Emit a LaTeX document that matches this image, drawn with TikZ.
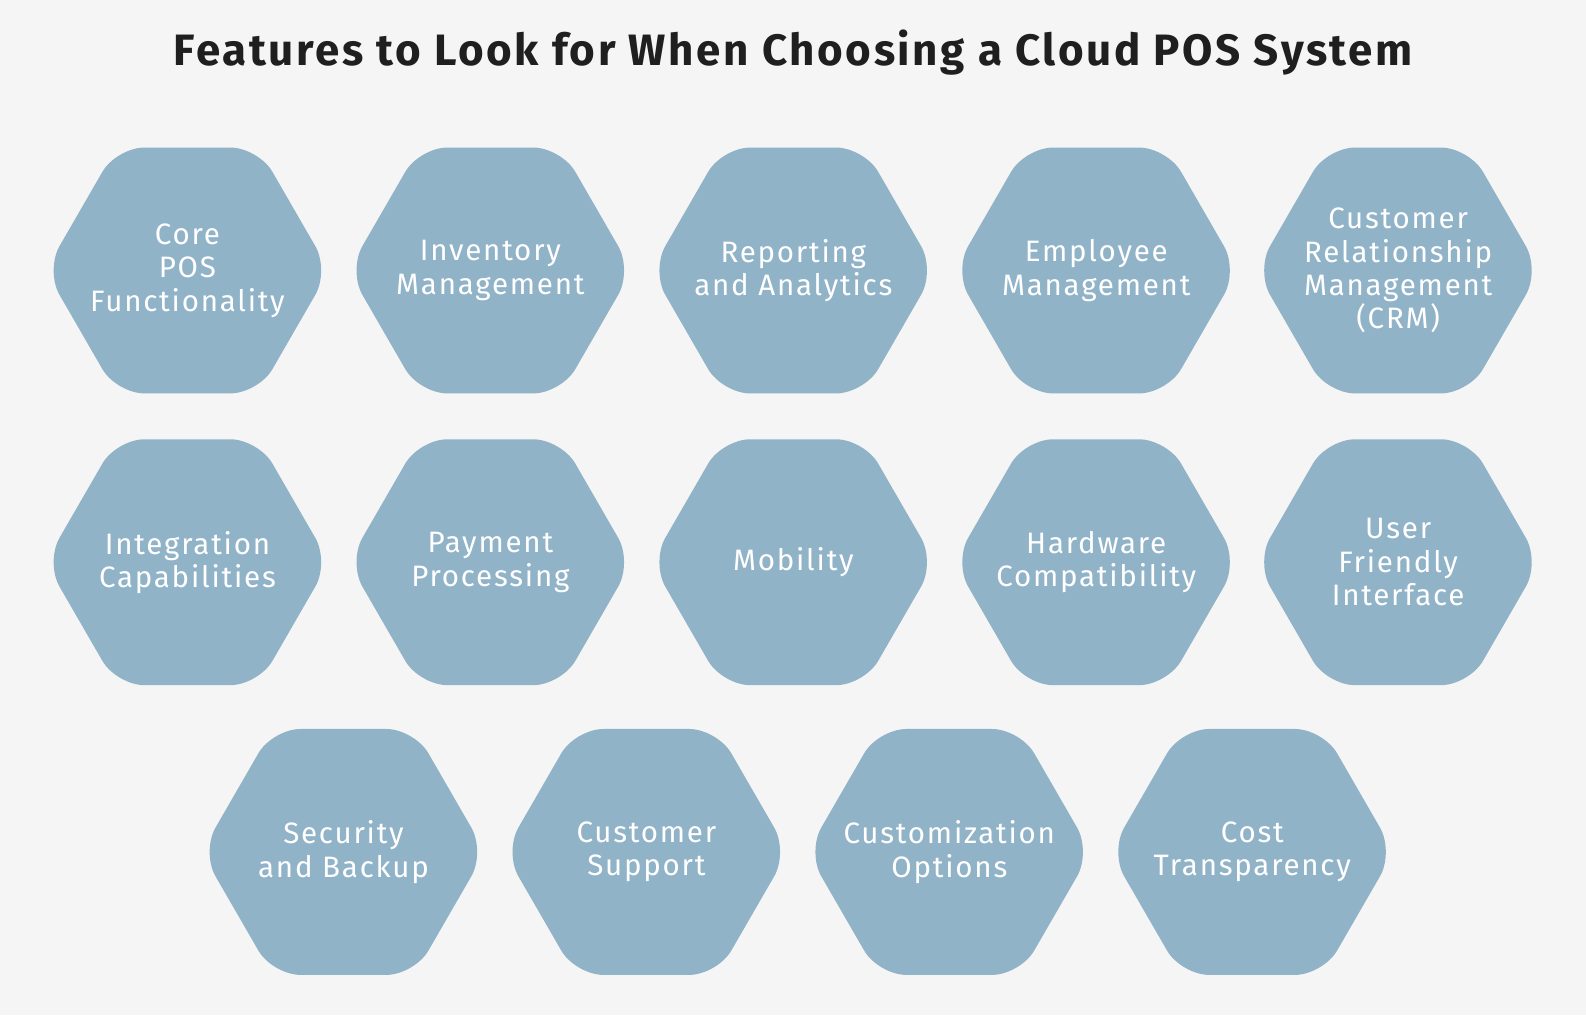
\documentclass[tikz,border=0pt]{standalone}
\usepackage{fontspec}
\setmainfont{Fira Sans}[LetterSpace=6]
\usetikzlibrary{shapes.geometric}
\definecolor{bgcol}{HTML}{F5F5F5}
\definecolor{hexcol}{HTML}{91B3C8}
\tikzset{%
	feat/.style={regular polygon, regular polygon sides=6, minimum size=5.68cm,
		inner sep=0mm, rounded corners=16pt, fill=hexcol, draw=none,
		label={[text=white, align=center, font=\fontsize{16.8}{19}\selectfont]center:#1}},
	title/.style={font=\fontsize{25}{30}\selectfont\bfseries, text=black!88}
}
\begin{document}
\begin{tikzpicture}[x=0.02cm, y=-0.02cm]
	\fill[bgcol] (0,0) rectangle (1586,1015);
	\useasboundingbox (0,0) rectangle (1586,1015);
	\begin{scope}[scale=1.013]
	\node[title] (head) at (783,52) {Features to Look for When Choosing a Cloud POS System};
	% first row
	\node[feat={Core\\POS\\Functionality}] (core) at (185,267) {};
	\node[feat={Inventory\\Management}] (inv)  at (484,267) {};
	\node[feat={Reporting\\and Analytics}] (rep)  at (783,267) {};
	\node[feat={Employee\\Management}] (emp)  at (1082,267) {};
	\node[feat={Customer\\Relationship\\Management\\(CRM)}] (crm)  at (1380,267) {};
	% second row
	\node[feat={Integration\\Capabilities}] (integ) at (185,555) {};
	\node[feat={Payment\\Processing}] (pay)   at (484,555) {};
	\node[feat={Mobility}] (mob)   at (783,555) {};
	\node[feat={Hardware\\Compatibility}] (hw)    at (1082,555) {};
	\node[feat={User\\Friendly\\Interface}] (ui)    at (1380,555) {};
	% third row
	\node[feat={Security\\and Backup}] (sec)  at (339,841) {};
	\node[feat={Customer\\Support}] (supp) at (638,841) {};
	\node[feat={Customization\\Options}] (cust) at (937,841) {};
	\node[feat={Cost\\Transparency}] (cost) at (1236,841) {};
	\end{scope}
\end{tikzpicture}
\end{document}
